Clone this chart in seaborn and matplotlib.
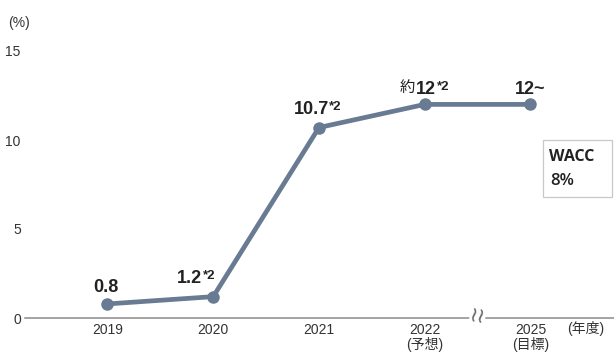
import pandas as pd
import matplotlib.pyplot as plt
import seaborn as sns
from matplotlib.patches import Rectangle

# data
years = ["2019", "2020", "2021", "2022\n(予想)", "2025\n(目標)"]
roe = [0.79, 1.2, 10.7, 12.0, 12.0]
prefixes = ["", "", "", "約", ""]
labels = ["0.8", "1.2", "10.7", "12", "12~"]
notes = ["", "*2", "*2", "*2", ""]
yticks = [0, 5, 10, 15]

df = pd.DataFrame({"pos": range(len(years)), "roe": roe})

sns.set_theme(style="white")
plt.rcParams["font.family"] = ["Liberation Sans Narrow", "Liberation Sans", "Noto Sans CJK JP", "DejaVu Sans"]

line_color = "#687b92"
text_color = "#222222"

fig = plt.figure(figsize=(6.14, 3.53), dpi=100)
ax = fig.add_axes([25 / 614, 1 - 318 / 353, 1 - 25 / 614, (318 - 51) / 353])

sns.lineplot(data=df, x="pos", y="roe", color=line_color, linewidth=3.4,
             marker="o", markersize=9, markeredgewidth=0, ax=ax, clip_on=False)

ax.set_xlim(-0.78, 4.79)
ax.set_ylim(0, 15)
ax.set_xticks(range(len(years)))
ax.set_xticklabels(years, fontsize=10, color="#333333", linespacing=1.05)
ax.set_yticks(yticks)
ax.set_yticklabels([str(v) for v in yticks], fontsize=10, color="#333333")
ax.tick_params(axis="both", length=0)
ax.tick_params(axis="x", pad=3.5)
ax.tick_params(axis="y", pad=3)
ax.set_xlabel("")
ax.set_ylabel("")
for side in ["top", "right", "left"]:
    ax.spines[side].set_visible(False)
ax.spines["bottom"].set_color("#8a8a8a")
ax.spines["bottom"].set_linewidth(1.1)

# value labels, the *2 note sits right after the number
label_dx = [-1, -8, 7, 8, 0]
label_dy = [8.5, 9.5, 10, 7.5, 7.5]
for i, (pre, lab, note) in enumerate(zip(prefixes, labels, notes)):
    ha = "right" if note else "center"
    t = ax.annotate(lab, xy=(i, roe[i]), xytext=(label_dx[i], label_dy[i]),
                    textcoords="offset points", ha=ha, va="baseline",
                    fontsize=13, fontweight="bold", color=text_color)
    if note:
        ax.annotate(note, xy=(1, 1), xycoords=t, xytext=(0.5, 0),
                    textcoords="offset points", ha="left", va="top",
                    fontsize=9.5, fontweight="bold", color=text_color)
    if pre:
        ax.annotate(pre, xy=(0, 0), xycoords=t, xytext=(-0.5, 1.2),
                    textcoords="offset points", ha="right", va="bottom",
                    fontsize=11, color=text_color, family="Noto Sans CJK JP")

# axis break between 2022 and 2025
ax.text(3.5, 0.1, "≀≀", rotation=-10, ha="center", va="center", fontsize=15,
        color="#666666", family="DejaVu Sans",
        bbox=dict(boxstyle="square,pad=0.0", fc="white", ec="none"))

fig.text(8 / 614, 1 - 23 / 353, "(%)", fontsize=10, color="#333333", va="center")
fig.text(567 / 614, 1 - 321 / 353, "(年度)", fontsize=10, color="#333333", va="top")

# WACC box
fig.patches.append(Rectangle((543 / 614, 1 - 197 / 353), 69 / 614, 57 / 353,
                             transform=fig.transFigure, fill=False,
                             ec="#c8c8c8", lw=0.9))
fig.text(549 / 614, 1 - 157 / 353, "WACC", family="Open Sans", fontweight="bold",
         fontsize=11.5, color=text_color, va="center")
fig.text(550 / 614, 1 - 181 / 353, "8%", family="Open Sans", fontweight="semibold",
         fontsize=12, color=text_color, va="center")

plt.savefig("out.png", dpi=100)
